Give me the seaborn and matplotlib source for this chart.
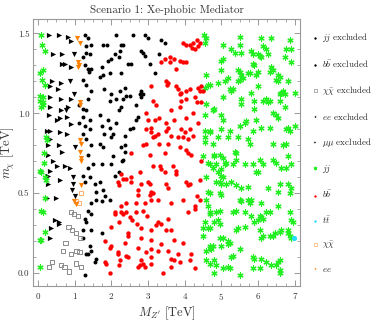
import numpy as np
import pandas as pd
import seaborn as sns
import matplotlib.pyplot as plt
from matplotlib.ticker import MultipleLocator

# --- data: (M_Z' [TeV], m_chi [TeV]) ---
jj_excl = [
    (1.77, 1.43), (1.88, 1.43), (2.13, 1.49), (2.27, 1.43), (2.09, 1.37), (2.0, 1.34),
    (2.21, 1.35), (1.91, 1.33), (1.73, 1.29), (1.77, 1.24), (1.95, 1.25), (2.27, 1.25),
    (1.68, 1.23), (1.81, 1.15), (2.0, 1.12), (2.23, 1.14), (2.13, 1.09), (1.95, 1.08),
    (2.27, 1.04), (1.68, 0.99), (1.91, 0.96), (1.73, 0.92), (1.95, 0.91), (2.13, 0.94),
    (1.81, 0.87), (2.04, 0.87), (2.0, 0.85), (1.68, 0.81), (2.27, 0.79), (1.77, 0.79),
    (2.32, 1.43), (2.23, 1.39), (2.59, 1.49), (2.91, 1.49), (3.0, 1.47), (2.81, 1.39),
    (2.86, 1.38), (2.91, 1.36), (3.36, 1.46), (3.45, 1.44), (3.31, 1.37), (2.45, 1.31),
    (2.54, 1.31), (3.04, 1.31), (3.18, 1.25), (2.36, 1.16), (2.81, 1.14), (2.86, 1.12),
    (2.77, 1.12), (2.81, 1.10), (2.32, 1.09), (2.41, 1.11), (2.5, 1.11), (2.68, 1.05),
    (2.22, 1.02), (2.72, 0.98), (2.68, 0.96), (2.59, 0.91), (2.5, 0.90), (2.36, 0.86),
    (2.36, 0.80), (2.36, 0.76), (2.32, 0.71), (2.29, 0.70), (2.22, 0.63), (2.04, 0.73),
    (1.73, 0.68), (2.0, 0.68), (2.09, 0.61), (1.68, 0.57), (1.77, 0.52), (1.82, 0.48),
    (1.73, 0.45), (1.95, 0.46), (1.73, 0.25),
]
bb_excl = [
    (1.27, 1.49), (1.36, 1.47), (1.45, 1.43), (1.32, 1.42), (1.32, 1.38), (1.41, 1.37),
    (1.23, 1.35), (1.27, 1.30), (1.36, 1.28), (1.45, 1.28), (1.40, 1.26), (1.23, 1.21),
    (1.32, 1.18), (1.45, 1.14), (1.36, 1.09), (1.13, 1.05), (1.23, 1.03), (1.32, 1.02),
    (1.23, 0.98), (1.41, 0.96), (1.13, 0.94), (1.27, 0.92), (1.41, 0.90), (1.23, 0.87),
    (1.32, 0.84), (1.45, 0.80), (1.36, 0.74), (1.5, 0.68), (1.36, 0.66), (1.23, 0.61),
    (1.41, 0.60), (1.27, 0.57), (1.54, 0.56), (1.59, 0.51), (1.45, 0.44), (1.59, 0.46),
    (1.36, 0.39), (1.45, 0.37), (1.27, 0.34), (1.32, 0.32), (1.23, 0.27), (1.45, 0.27),
    (1.23, 0.22), (1.41, 0.17), (1.45, 0.14), (1.59, 0.09), (1.54, 0.07), (1.27, -0.01),
    (1.31, 0.12), (1.37, 0.12),
]
chichi_excl = [
    (0.9, 0.38), (0.98, 0.37), (1.1, 0.355), (0.83, 0.29), (0.92, 0.27), (1.04, 0.25),
    (1.14, 0.22), (0.75, 0.19), (0.69, 0.14), (0.9, 0.12), (1.05, 0.14), (1.13, 0.13),
    (0.37, 0.07), (0.30, 0.04), (0.63, 0.05), (0.72, 0.04), (1.03, 0.06), (1.17, 0.04),
    (0.85, 0.01),
]
ee_excl = [
    (0.98, 1.37), (0.86, 1.20), (0.97, 1.12), (0.77, 1.02), (1.0, 0.79), (0.95, 0.60),
    (0.94, 0.56), (0.92, 0.52), (1.0, 0.48),
]
mumu_excl = [
    (0.31, 1.49), (0.57, 1.49), (0.81, 1.48), (0.90, 1.45), (0.42, 1.37), (0.64, 1.37),
    (0.64, 1.31), (0.74, 1.31), (0.89, 1.29), (0.37, 1.20), (0.62, 1.19), (0.33, 1.17),
    (0.55, 1.15), (0.33, 1.10), (0.63, 1.09), (0.89, 1.09), (0.33, 1.04), (0.63, 1.02),
    (0.82, 1.04), (0.30, 0.99), (0.52, 0.96), (0.60, 0.97), (0.78, 0.98), (0.90, 0.93),
    (0.24, 0.89), (0.33, 0.89), (0.60, 0.88), (0.78, 0.87), (0.33, 0.84), (0.28, 0.80),
    (0.58, 0.80), (0.65, 0.76), (0.28, 0.74), (0.73, 0.67), (0.86, 0.655), (0.41, 0.70),
    (0.53, 0.67), (0.33, 0.64), (0.26, 0.61), (0.61, 0.58), (0.28, 0.56), (0.24, 0.47),
    (0.50, 0.47), (0.47, 0.33), (0.56, 0.32), (0.58, 0.31), (0.35, 0.28), (0.33, 0.22),
]
jj = [
    # left edge
    (0.07, 1.49), (0.12, 1.43), (0.19, 1.39), (0.05, 1.25), (0.14, 1.27), (0.12, 1.21),
    (0.19, 1.18), (0.05, 1.11), (0.14, 1.10), (0.06, 1.08), (0.13, 1.07), (0.08, 1.04),
    (0.14, 1.05), (0.22, 0.85), (0.24, 0.83), (0.16, 0.75), (0.17, 0.69), (0.05, 0.64),
    (0.09, 0.63), (0.20, 0.60), (0.22, 0.58), (0.18, 0.47), (0.08, 0.39), (0.13, 0.38),
    (0.18, 0.26), (0.04, 0.21), (0.08, 0.21), (0.06, 0.04),
    # x ~ 4.5
    (4.52, 1.49), (4.59, 1.47), (4.56, 1.44), (4.59, 1.24), (4.63, 1.18), (4.56, 1.16),
    (4.59, 1.06), (4.54, 0.99), (4.56, 0.89), (4.68, 0.89), (4.56, 0.85), (4.56, 0.82),
    (4.5, 0.73), (4.63, 0.69), (4.59, 0.60), (4.63, 0.51), (4.59, 0.46), (4.63, 0.42),
    (4.68, 0.37), (4.54, 0.32), (4.5, 0.28), (4.63, 0.28), (4.5, 0.23), (4.68, 0.16),
    (4.59, 0.14), (4.59, 0.08), (4.68, 0.06),
    # upper right
    (5.5, 1.48), (6.07, 1.47), (6.34, 1.47), (6.88, 1.46), (5.04, 1.43), (5.5, 1.43),
    (5.27, 1.40), (5.36, 1.38), (5.54, 1.38), (5.81, 1.39), (5.85, 1.37), (6.0, 1.37),
    (6.04, 1.36), (6.09, 1.35), (6.13, 1.42), (6.22, 1.40), (6.27, 1.37), (6.77, 1.40),
    (6.89, 1.40), (6.72, 1.35), (5.0, 1.33), (5.04, 1.34), (5.86, 1.31), (5.9, 1.30),
    (6.35, 1.29), (6.4, 1.27), (6.31, 1.26), (6.9, 1.32), (4.99, 1.27), (5.45, 1.27),
    (5.5, 1.26), (5.54, 1.24), (5.72, 1.25), (5.77, 1.25), (6.0, 1.26), (5.95, 1.24),
    (6.54, 1.24), (6.59, 1.23), (5.5, 1.21), (5.59, 1.22), (5.45, 1.20), (5.18, 1.22),
    (6.49, 1.21), (6.54, 1.20), (6.81, 1.20), (4.68, 1.18), (4.9, 1.19), (5.09, 1.20),
    (5.22, 1.15), (5.31, 1.15), (5.27, 1.14), (5.04, 1.10), (5.54, 1.09), (5.54, 1.06),
    (5.81, 1.13), (5.99, 1.17), (6.13, 1.08), (6.22, 1.09), (6.63, 1.13), (6.68, 1.14),
    (6.72, 1.12), (6.59, 1.12), (7.0, 1.13), (6.59, 1.08), (5.9, 1.08), (6.31, 1.08),
    (6.27, 1.07), (4.81, 1.03), (4.77, 1.02), (4.99, 0.99), (5.04, 0.96), (5.9, 1.03),
    (6.4, 1.0), (6.49, 0.99), (6.54, 0.97), (6.72, 1.04), (5.67, 0.95), (5.63, 0.94),
    (5.95, 0.96), (4.99, 0.90), (5.22, 0.89), (5.5, 0.92), (5.86, 0.89), (6.08, 0.91),
    (6.31, 0.91), (6.77, 0.90), (6.81, 0.91), (6.86, 0.89), (7.0, 0.92), (4.68, 0.88),
    (4.9, 0.85), (5.18, 0.85), (5.45, 0.85), (5.72, 0.84), (4.77, 0.81), (6.4, 0.81),
    (6.68, 0.80), (6.77, 0.81), (5.77, 0.81), (5.36, 0.76), (5.4, 0.75), (4.81, 0.74),
    # lower right
    (4.81, 0.73), (4.95, 0.74), (5.04, 0.72), (4.68, 0.68), (4.77, 0.66), (4.86, 0.68),
    (4.99, 0.65), (5.09, 0.68), (5.13, 0.69), (5.31, 0.68), (5.4, 0.71), (5.63, 0.68),
    (5.86, 0.68), (6.04, 0.71), (6.13, 0.68), (6.4, 0.71), (6.49, 0.69), (6.81, 0.73),
    (6.63, 0.66), (6.77, 0.66), (6.9, 0.68), (4.9, 0.63), (4.99, 0.61), (5.04, 0.60),
    (4.86, 0.57), (4.95, 0.57), (4.99, 0.56), (5.13, 0.56), (5.27, 0.57), (5.4, 0.55),
    (5.54, 0.53), (5.72, 0.54), (5.95, 0.63), (5.99, 0.63), (6.27, 0.53), (6.54, 0.51),
    (6.59, 0.56), (6.81, 0.56), (6.9, 0.53), (6.86, 0.50), (4.68, 0.50), (4.95, 0.50),
    (4.99, 0.49), (5.5, 0.46), (5.54, 0.45), (5.72, 0.46), (5.77, 0.44), (5.81, 0.46),
    (6.08, 0.44), (6.22, 0.38), (6.31, 0.38), (6.04, 0.36), (6.54, 0.42), (4.68, 0.38),
    (4.86, 0.38), (4.95, 0.39), (5.31, 0.38), (5.4, 0.39), (5.63, 0.38), (5.81, 0.36),
    (6.08, 0.35), (6.13, 0.34), (6.86, 0.38), (6.9, 0.33), (6.95, 0.32), (4.81, 0.32),
    (4.9, 0.33), (4.95, 0.31), (5.45, 0.28), (5.4, 0.27), (5.63, 0.29), (5.9, 0.32),
    (5.99, 0.33), (4.68, 0.28), (6.04, 0.27), (6.08, 0.22), (6.13, 0.23), (6.31, 0.23),
    (6.4, 0.23), (6.45, 0.25), (6.59, 0.26), (6.63, 0.27), (6.81, 0.27), (6.86, 0.23),
    (6.81, 0.25), (6.9, 0.22), (4.95, 0.22), (5.04, 0.22), (5.18, 0.20), (5.22, 0.19),
    (5.18, 0.18), (4.99, 0.17), (4.68, 0.17), (4.72, 0.15), (4.77, 0.17), (5.5, 0.15),
    (5.31, 0.11), (5.27, 0.10), (5.86, 0.10), (5.9, 0.09), (6.08, 0.09), (6.59, 0.08),
    (6.54, 0.07), (6.49, 0.05), (6.35, 0.05), (4.81, 0.08), (4.86, 0.05), (5.04, 0.03),
    (5.18, 0.04), (5.22, 0.03), (5.86, 0.03), (6.04, 0.03), (6.22, 0.07), (6.59, 0.02),
    (6.59, 0.0), (4.81, 0.0), (5.5, -0.01),
]
bb = [
    (3.95, 1.44), (4.04, 1.43), (4.13, 1.43), (4.20, 1.41), (4.29, 1.40), (4.36, 1.42),
    (4.41, 1.44), (4.32, 1.46), (4.22, 1.44), (3.36, 1.32), (3.45, 1.34), (3.59, 1.32),
    (3.72, 1.34), (3.86, 1.33), (3.95, 1.32), (4.04, 1.32), (3.59, 1.35), (3.77, 1.28),
    (3.5, 1.20), (3.54, 1.19), (3.52, 1.18), (3.77, 1.17), (3.81, 1.15), (3.86, 1.12),
    (3.91, 1.13), (4.04, 1.14), (4.13, 1.15), (4.36, 1.16), (4.45, 1.17), (4.41, 1.14),
    (4.5, 1.14), (3.09, 1.17), (3.13, 1.08), (3.22, 1.05), (3.63, 1.02), (3.86, 1.04),
    (3.91, 1.08), (4.04, 1.09), (4.27, 1.10), (4.32, 1.07), (4.45, 1.07), (2.95, 1.0),
    (3.0, 0.96), (3.18, 0.96), (3.31, 0.97), (3.5, 0.94), (3.72, 0.96), (4.04, 0.97),
    (4.22, 1.0), (4.36, 0.94), (2.95, 0.90), (3.09, 0.91), (3.54, 0.91), (3.5, 0.89),
    (3.63, 0.86), (3.91, 0.90), (4.0, 0.88), (4.13, 0.90), (4.22, 0.86), (3.09, 0.88),
    (3.18, 0.86), (3.27, 0.87), (3.31, 0.81), (2.86, 0.80), (2.95, 0.81), (3.13, 0.85),
    (3.54, 0.81), (3.81, 0.85), (3.95, 0.85), (4.09, 0.84), (2.54, 0.75), (3.86, 0.79),
    (4.04, 0.77), (3.04, 0.74), (3.45, 0.75), (4.09, 0.75), (4.18, 0.74), (4.45, 0.70),
    (2.27, 0.62), (2.32, 0.59), (2.18, 0.57), (2.41, 0.59), (2.54, 0.60), (2.54, 0.57),
    (2.77, 0.63), (3.13, 0.67), (3.32, 0.67), (3.36, 0.65), (3.45, 0.63), (3.68, 0.67),
    (3.77, 0.64), (3.77, 0.62), (4.04, 0.57), (4.13, 0.56), (4.41, 0.58), (2.99, 0.57),
    (3.04, 0.56), (2.81, 0.56), (3.5, 0.56), (3.54, 0.53), (3.13, 0.50), (3.09, 0.51),
    (2.72, 0.52), (2.72, 0.49), (4.09, 0.55), (2.27, 0.42), (2.41, 0.44), (2.27, 0.38),
    (2.41, 0.38), (2.68, 0.44), (2.68, 0.38), (2.86, 0.39), (2.91, 0.44), (3.09, 0.46),
    (3.04, 0.49), (3.27, 0.46), (3.63, 0.44), (3.95, 0.46), (4.09, 0.38), (4.27, 0.42),
    (4.27, 0.40), (4.41, 0.46), (4.32, 0.48), (2.22, 0.32), (2.5, 0.35), (3.27, 0.32),
    (3.22, 0.30), (3.36, 0.31), (3.5, 0.27), (3.63, 0.27), (3.54, 0.34), (3.09, 0.27),
    (2.81, 0.28), (2.45, 0.25), (2.45, 0.23), (2.81, 0.22), (3.09, 0.21), (3.36, 0.18),
    (3.72, 0.21), (3.95, 0.19), (2.72, 0.16), (3.09, 0.15), (2.95, 0.13), (3.27, 0.14),
    (3.54, 0.14), (3.81, 0.12), (2.18, 0.12), (2.45, 0.10), (2.81, 0.08), (2.86, 0.06),
    (2.91, 0.04), (3.09, 0.10), (3.09, 0.06), (3.41, -0.0), (3.63, 0.09), (3.72, 0.08),
    (3.86, 0.07), (4.13, 0.08), (4.18, 0.12), (3.63, 0.04), (4.27, 0.03), (2.22, 0.05),
    (2.77, 0.05), (2.1, 0.37), (2.31, 0.37), (2.55, 0.33), (2.69, 0.31), (2.96, 0.36),
    (1.83, 0.20), (1.96, 0.16), (2.0, 0.17), (2.19, 0.13), (2.37, 0.19), (2.23, 0.08),
    (2.41, 0.11), (1.82, 0.07), (1.86, 0.06), (1.96, 0.0), (2.73, 0.04), (2.2, 0.55),
    (2.09, 0.38), (1.99, 0.29),
]
tt = [(6.98, 0.22)]
chichi = [(1.18, 0.50), (1.12, 0.44), (1.03, 0.45)]
ee = [
    (1.07, 1.47), (1.14, 1.44), (1.10, 1.32), (1.12, 1.30), (1.08, 1.29), (1.14, 1.07),
    (1.15, 1.05), (1.15, 0.83), (1.16, 0.81), (1.15, 0.76), (1.16, 0.72), (1.18, 0.70),
    (1.16, 0.55), (0.97, 0.45), (1.03, 0.43),
]

sns.set_style("ticks")
plt.rcParams["font.family"] = ["serif"]
plt.rcParams["font.serif"] = ["cmr10", "DejaVu Serif"]
plt.rcParams["mathtext.fontset"] = "cm"
plt.rcParams["axes.formatter.use_mathtext"] = True

fig = plt.figure(figsize=(3.74, 3.22), dpi=100)
ax = fig.add_axes([0.088, 0.112, 0.714, 0.829])


def draw(pts, label, **kw):
    d = pd.DataFrame(pts, columns=["mz", "mchi"])
    sns.scatterplot(data=d, x="mz", y="mchi", ax=ax, label=label, **kw)


draw(jj_excl, r"$jj$ excluded", color="black", marker="o", s=8, linewidth=0)
draw(bb_excl, r"$b\bar{b}$ excluded", color="black", marker="o", s=8, linewidth=0)
draw(chichi_excl, r"$\chi\bar{\chi}$ excluded", marker="s", s=9, fc="none",
     ec="#8c8c8c", linewidth=0.7)
draw(ee_excl, r"$ee$ excluded", color="black", marker="v", s=14, linewidth=0)
draw(mumu_excl, r"$\mu\mu$ excluded", color="black", marker=">", s=14, linewidth=0)
draw(jj, r"$jj$", color="#22ee22", marker=(6, 2, 0), s=14, linewidth=0.9,
     ec="#22ee22")
draw(bb, r"$b\bar{b}$", color="#ff0000", marker="o", s=10, linewidth=0)
draw(tt, r"$t\bar{t}$", color="#22ddff", marker="o", s=14, linewidth=0)
draw(chichi, r"$\chi\bar{\chi}$", marker="s", s=9, fc="none", ec="#ffb070",
     linewidth=0.7)
draw(ee, r"$ee$", color="#ff8000", marker="v", s=14, linewidth=0)

ax.set_xlim(-0.14, 7.14)
ax.set_ylim(-0.08, 1.59)
ax.xaxis.set_major_locator(MultipleLocator(1))
ax.xaxis.set_minor_locator(MultipleLocator(0.25))
ax.yaxis.set_major_locator(MultipleLocator(0.5))
ax.yaxis.set_minor_locator(MultipleLocator(0.1))
ax.yaxis.set_major_formatter(plt.FormatStrFormatter("%.1f"))
ax.tick_params(which="both", direction="in", top=True, right=True,
               colors="#888888", labelcolor="#333333", labelsize=6.5)
ax.tick_params(which="major", length=4, width=0.6)
ax.tick_params(which="minor", length=2, width=0.5)
ax.tick_params(axis="y", pad=2.5)
for sp in ax.spines.values():
    sp.set_color("#999999")
    sp.set_linewidth(0.8)

ax.set_title("Scenario 1: Xe-phobic Mediator", fontsize=8, pad=4, color="#333333")
ax.set_xlabel(r"$M_{Z'}$ [TeV]", fontsize=9, color="#333333", labelpad=2)
ax.set_ylabel(r"$m_\chi$ [TeV]", fontsize=9, color="#333333")
ax.yaxis.set_label_coords(-0.058, 0.5)

leg = ax.legend(loc="center left", bbox_to_anchor=(1.01, 0.5), frameon=False,
                fontsize=6.5, handletextpad=0.3, labelspacing=1.55,
                handlelength=1.0)
for h in leg.legend_handles:
    h.set_sizes([5])
    h.set_linewidths([0.5])

fig.savefig("out.png", dpi=100)
